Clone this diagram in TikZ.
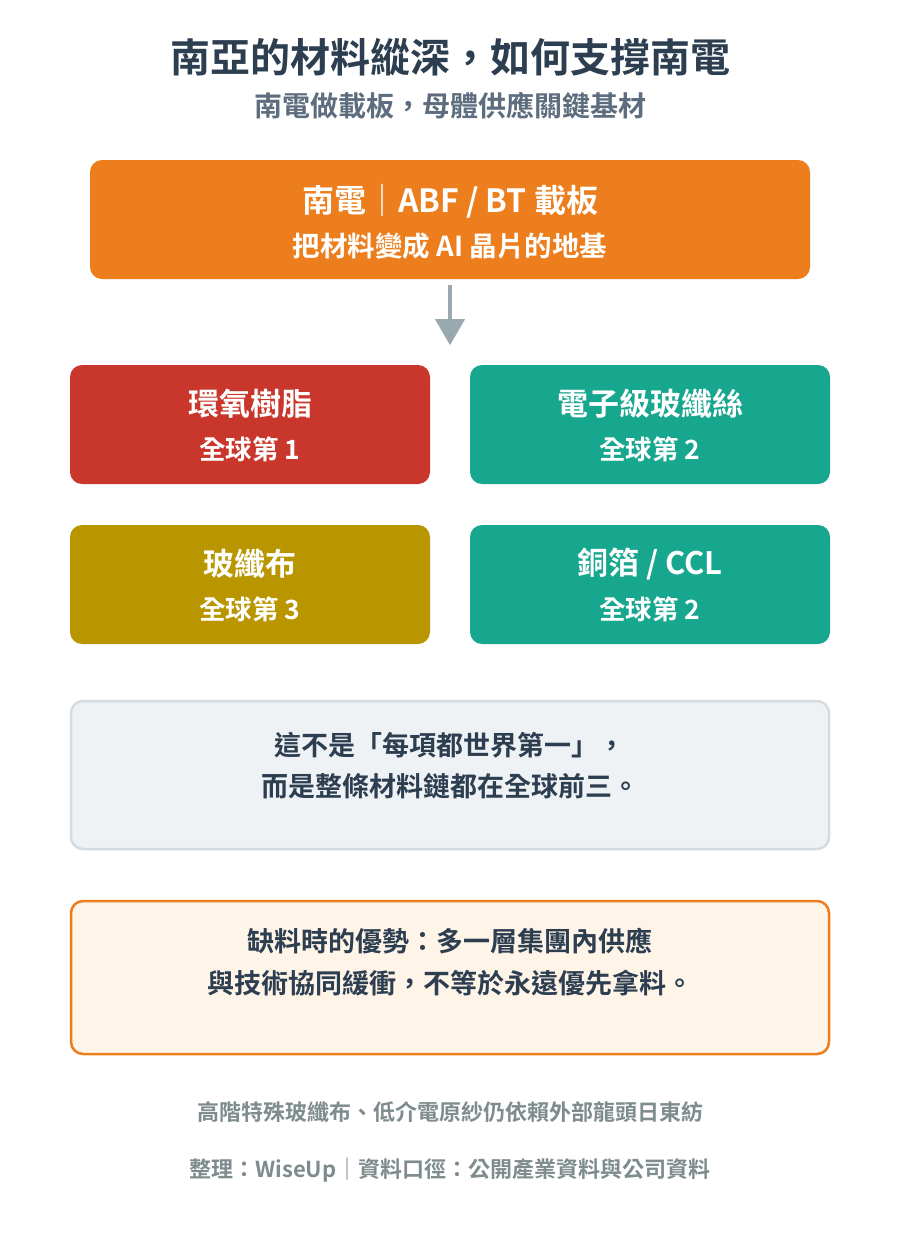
\documentclass[tikz,border=0pt]{standalone}
\usepackage{fontspec}
\setmainfont{Noto Sans CJK TC}[BoldFont={Noto Sans CJK TC Bold}]
\usetikzlibrary{arrows.meta}
\definecolor{ink}{HTML}{2C3E50}
\definecolor{subink}{HTML}{5D6D7E}
\definecolor{footink}{HTML}{7F8C8D}
\definecolor{orangeC}{HTML}{EC7E1E}
\definecolor{redC}{HTML}{C9372C}
\definecolor{tealC}{HTML}{17A68E}
\definecolor{goldC}{HTML}{B99600}
\definecolor{arrowC}{HTML}{9AA8AF}
\definecolor{noteFill}{HTML}{EEF2F5}
\definecolor{noteLine}{HTML}{D5DCE1}
\definecolor{warnFill}{HTML}{FEF4E8}
\tikzset{
  panel/.style={rounded corners=12pt, inner sep=0pt, draw=none},
  bigtxt/.style={font=\bfseries\fontsize{31}{34}\selectfont, text=white, inner sep=0pt},
  smalltxt/.style={font=\bfseries\fontsize{26.5}{30}\selectfont, text=white, inner sep=0pt},
  notetxt/.style={font=\bfseries\fontsize{27}{30}\selectfont, text=ink, inner sep=0pt},
  foottxt/.style={font=\bfseries\fontsize{22}{26}\selectfont, text=footink, inner sep=0pt},
  arr/.style={draw=arrowC, line width=4pt, -{Triangle[width=29pt,length=26pt]}}
}
\begin{document}
\begin{tikzpicture}[x=1pt,y=-1pt]
\useasboundingbox[fill=white] (0,0) rectangle (900,1240);
% titles
\node[font=\bfseries\fontsize{40}{44}\selectfont, text=ink, inner sep=0pt] (title) at (450,57) {南亞的材料縱深，如何支撐南電};
\node[font=\bfseries\fontsize{28}{31}\selectfont, text=subink, inner sep=0pt] (subtitle) at (450,106) {南電做載板，母體供應關鍵基材};
% top box
\node[panel, fill=orangeC, minimum width=720pt, minimum height=119pt] (top) at (450,219.5) {};
\node[bigtxt, font=\bfseries\fontsize{32}{35}\selectfont] (topA) at (450,201) {南電｜ABF / BT 載板};
\node[smalltxt, font=\bfseries\fontsize{27.5}{30}\selectfont] (topB) at (450,246) {把材料變成 AI 晶片的地基};
% arrow
\coordinate (arrS) at ([yshift=-6pt]top.south);
\coordinate (arrE) at ([yshift=-66pt]top.south);
\draw[arr] (arrS) -- (arrE);
% row 1
\node[panel, fill=redC, minimum width=360pt, minimum height=119pt] (epoxy) at (250,424.5) {};
\node[bigtxt] (epoxyA) at (250,404) {環氧樹脂};
\node[smalltxt] (epoxyB) at (250,449) {全球第 1};
\node[panel, fill=tealC, minimum width=360pt, minimum height=119pt] (yarn) at (650,424.5) {};
\node[bigtxt] (yarnA) at (650,404) {電子級玻纖絲};
\node[smalltxt] (yarnB) at (650,449) {全球第 2};
% row 2
\node[panel, fill=goldC, minimum width=360pt, minimum height=119pt] (cloth) at (250,584.5) {};
\node[bigtxt] (clothA) at (250,564) {玻纖布};
\node[smalltxt] (clothB) at (250,609) {全球第 3};
\node[panel, fill=tealC, minimum width=360pt, minimum height=119pt] (ccl) at (650,584.5) {};
\node[bigtxt] (cclA) at (650,564) {銅箔 / CCL};
\node[smalltxt] (cclB) at (650,609) {全球第 2};
% note box
\node[panel, fill=noteFill, draw=noteLine, line width=2.5pt, minimum width=758pt, minimum height=148pt] (note) at (450,775) {};
\node[notetxt] (noteA) at (450,745) {這不是「每項都世界第一」，};
\node[notetxt] (noteB) at (450,786) {而是整條材料鏈都在全球前三。};
% warning box
\node[panel, fill=warnFill, draw=orangeC, line width=2.5pt, minimum width=758pt, minimum height=153pt] (warn) at (450,977.5) {};
\node[notetxt] (warnA) at (450,941) {缺料時的優勢：多一層集團內供應};
\node[notetxt] (warnB) at (450,983) {與技術協同緩衝，不等於永遠優先拿料。};
% footer
\node[foottxt] (footA) at (450,1112) {高階特殊玻纖布、低介電原紗仍依賴外部龍頭日東紡};
\node[foottxt] (footB) at (450,1170) {整理：WiseUp｜資料口徑：公開產業資料與公司資料};
\end{tikzpicture}
\end{document}
